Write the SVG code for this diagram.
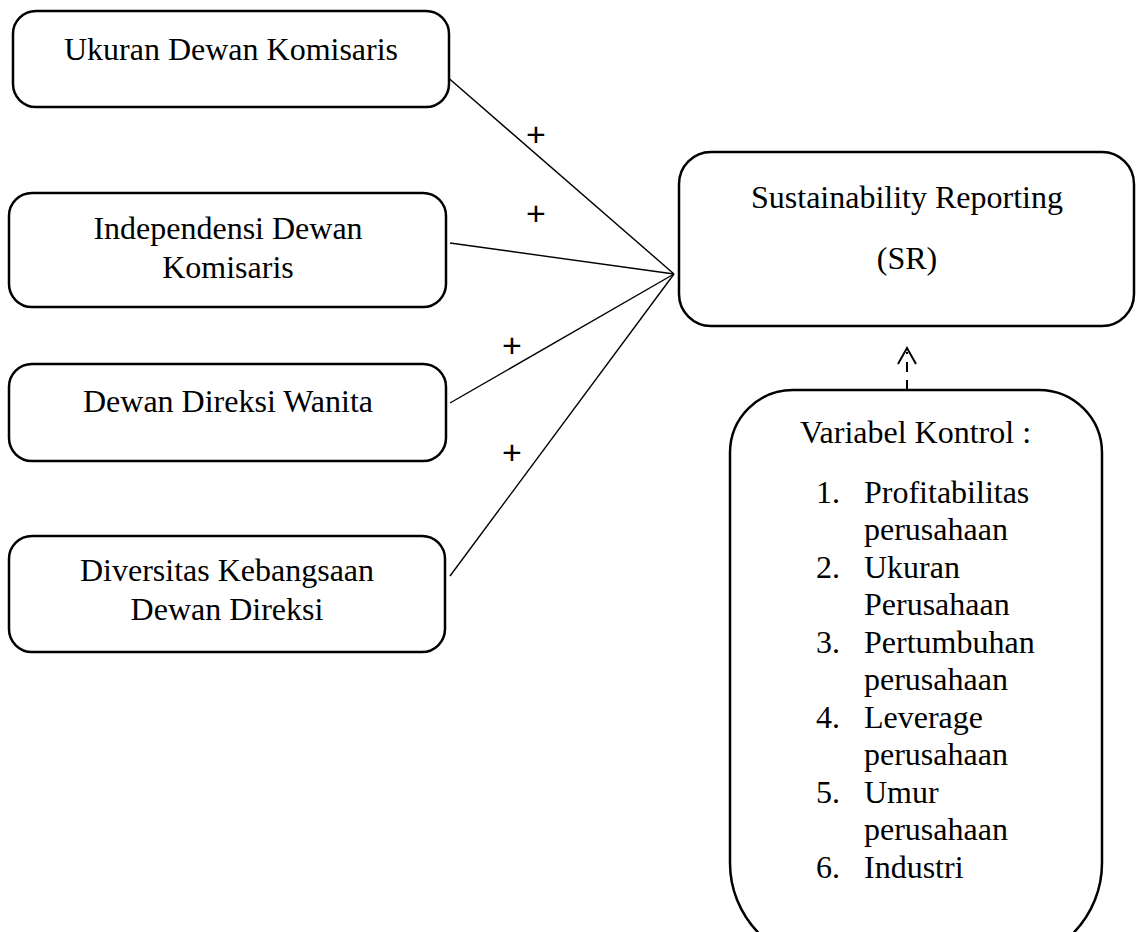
<svg xmlns="http://www.w3.org/2000/svg" width="1136" height="932" viewBox="0 0 1136 932">
<style>
.box{fill:#fff;stroke:#000;stroke-width:2.5}
.t{font-family:"Liberation Serif","Times New Roman",serif;font-size:32px;fill:#000}
.m{text-anchor:middle}
.ln{stroke:#000;stroke-width:1.4;fill:none}
.pl{font-family:"Liberation Sans",Arial,sans-serif;font-size:34px;fill:#000;text-anchor:middle}
</style>
<rect width="1136" height="932" fill="#fff"/>
<g id="connectors">
<line class="ln" x1="445" y1="75" x2="674" y2="274"/>
<line class="ln" x1="450" y1="243" x2="674" y2="274"/>
<line class="ln" x1="450" y1="403" x2="674" y2="274"/>
<line class="ln" x1="450" y1="576" x2="674" y2="274"/>
<text class="pl" x="536" y="146">+</text>
<text class="pl" x="536" y="225">+</text>
<text class="pl" x="512" y="357">+</text>
<text class="pl" x="512" y="464">+</text>
<line x1="907" y1="390" x2="907" y2="352" stroke="#000" stroke-width="2" stroke-dasharray="10,8"/>
<polyline points="898,364 907,348 916,364" fill="none" stroke="#000" stroke-width="2"/>
</g>
<g id="ukuran">
<rect class="box" x="13" y="11" width="436" height="96" rx="23"/>
<text class="t m" x="231" y="60">Ukuran Dewan Komisaris</text>
</g>
<g id="independensi">
<rect class="box" x="9" y="193" width="437" height="114" rx="23"/>
<text class="t m" x="228" y="239">Independensi Dewan</text>
<text class="t m" x="228" y="278">Komisaris</text>
</g>
<g id="wanita">
<rect class="box" x="9" y="364" width="437" height="97" rx="23"/>
<text class="t m" x="228" y="412">Dewan Direksi Wanita</text>
</g>
<g id="diversitas">
<rect class="box" x="9" y="536" width="436" height="116" rx="23"/>
<text class="t m" x="227" y="581">Diversitas Kebangsaan</text>
<text class="t m" x="227" y="620">Dewan Direksi</text>
</g>
<g id="sr">
<rect class="box" x="679" y="152" width="455" height="174" rx="32"/>
<text class="t m" x="907" y="208">Sustainability Reporting</text>
<text class="t m" x="907" y="269">(SR)</text>
</g>
<g id="kontrol">
<path class="box" d="M793,390 H1039 A63,63 0 0 1 1102,453 V863 A100,100 0 0 1 1002,963 H830 A100,100 0 0 1 730,863 V453 A63,63 0 0 1 793,390 Z"/>
<text class="t" x="800" y="443">Variabel Kontrol :</text>
<text class="t" x="816" y="503">1.</text>
<text class="t" x="864" y="503">Profitabilitas</text>
<text class="t" x="864" y="540">perusahaan</text>
<text class="t" x="816" y="578">2.</text>
<text class="t" x="864" y="578">Ukuran</text>
<text class="t" x="864" y="615">Perusahaan</text>
<text class="t" x="816" y="653">3.</text>
<text class="t" x="864" y="653">Pertumbuhan</text>
<text class="t" x="864" y="690">perusahaan</text>
<text class="t" x="816" y="728">4.</text>
<text class="t" x="864" y="728">Leverage</text>
<text class="t" x="864" y="765">perusahaan</text>
<text class="t" x="816" y="803">5.</text>
<text class="t" x="864" y="803">Umur</text>
<text class="t" x="864" y="840">perusahaan</text>
<text class="t" x="816" y="878">6.</text>
<text class="t" x="864" y="878">Industri</text>
</g>
</svg>
